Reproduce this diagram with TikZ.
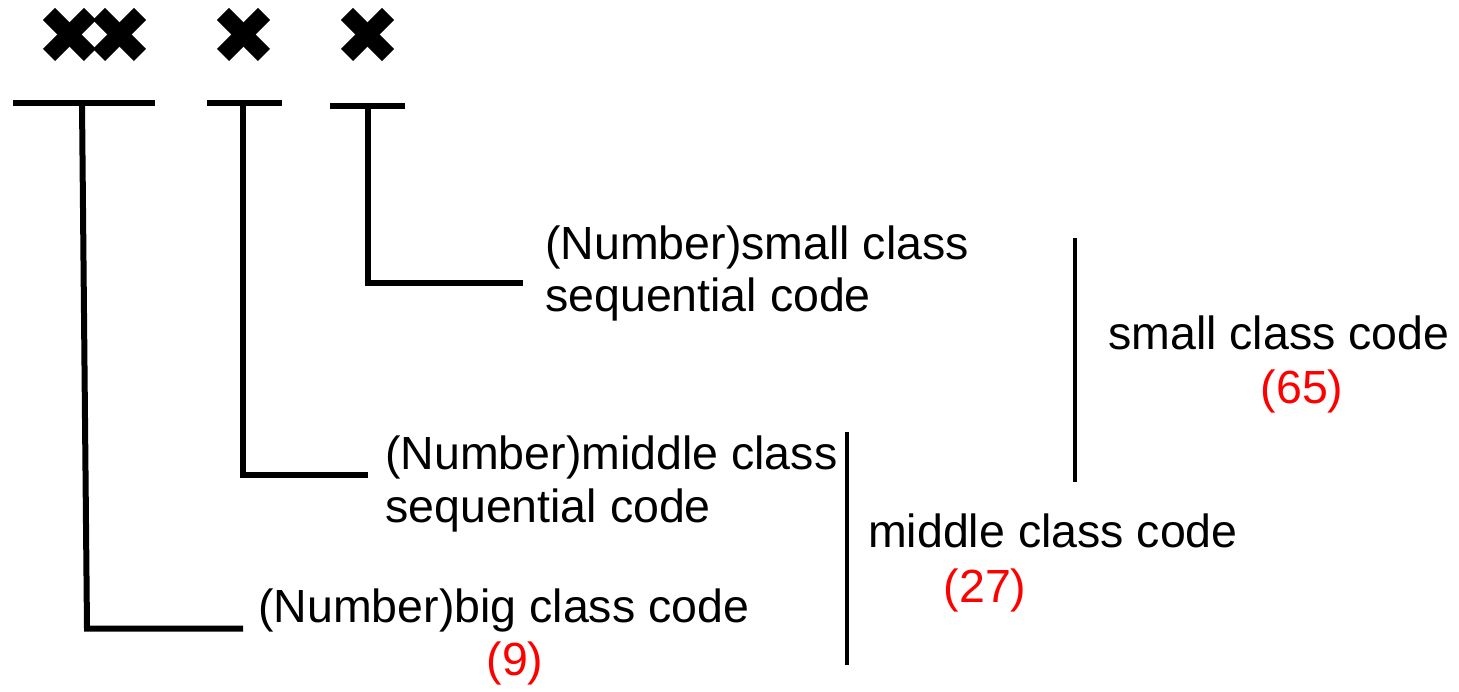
\documentclass[tikz,border=0pt]{standalone}
\usepackage{fontspec}
\setmainfont{Liberation Sans}
\begin{document}
\begin{tikzpicture}[x=1pt,y=-1pt,
  lbl/.style={inner sep=0pt, anchor=base west, font=\fontsize{46.5}{52.5}\selectfont, align=left},
  num/.style={inner sep=0pt, anchor=base, font=\fontsize{46.5}{52.5}\selectfont, text=red},
  conn/.style={line width=6pt, line join=miter},
  bar/.style={line width=4pt},
  xarm/.style={line width=17pt},
]
\useasboundingbox (0,0) rectangle (1459,692);
% cross marks
\foreach \cx in {69.5,119.5,243.5,367.5}{
  \draw[xarm] (\cx-20.5,14) -- (\cx+20.5,55);
  \draw[xarm] (\cx-20.5,55) -- (\cx+20.5,14);
}
% text nodes (base anchor = baseline of last line)
\node[lbl] (sml) at (545,312) {(Number)small class\\sequential code};
\node[lbl] (mid) at (385,522) {(Number)middle class\\sequential code};
\node[lbl] (big) at (258,622) {(Number)big class code};
\node[num] (n9) at (515,675) {(9)};
\node[lbl] (midc) at (868,547) {middle class code};
\node[num] (n27) at (985,602) {(27)};
\node[lbl] (smlc) at (1108,350) {small class code};
\node[num] (n65) at (1302,403) {(65)};
% coordinates
\coordinate (b1l) at (13,103);  \coordinate (b1r) at (155,103);
\coordinate (b1t) at (82,103);  \coordinate (b1c) at (87,628.5); \coordinate (b1e) at (243,628.5);
\coordinate (b2l) at (207,103); \coordinate (b2r) at (282,103);
\coordinate (b2t) at (243,103); \coordinate (b2c) at (243,475); \coordinate (b2e) at (368,475);
\coordinate (b3l) at (330,106); \coordinate (b3r) at (405,106);
\coordinate (b3t) at (368,106); \coordinate (b3c) at (368,283); \coordinate (b3e) at (523,283);
\coordinate (v1t) at (847,432); \coordinate (v1b) at (847,665);
\coordinate (v2t) at (1075,238); \coordinate (v2b) at (1075,482);
% connectors
\draw[conn] (b1l) -- (b1r);
\draw[conn] (b1t) -- (b1c) -- (b1e);
\draw[conn] (b2l) -- (b2r);
\draw[conn] (b2t) -- (b2c) -- (b2e);
\draw[conn] (b3l) -- (b3r);
\draw[conn] (b3t) -- (b3c) -- (b3e);
\draw[bar] (v1t) -- (v1b);
\draw[bar] (v2t) -- (v2b);
\end{tikzpicture}
\end{document}
